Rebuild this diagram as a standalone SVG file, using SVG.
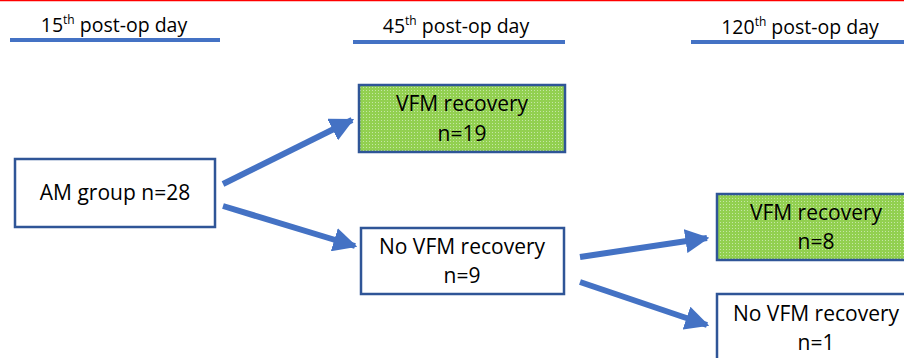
<svg xmlns="http://www.w3.org/2000/svg" width="904" height="358" viewBox="0 0 904 358">
<style>
.hdr{font-family:"Open Sans","Liberation Sans",sans-serif;font-size:19.5px;fill:#000;text-anchor:middle}
.sup{font-size:12px}
.ul{stroke:#4472C4;stroke-width:4}
.box{stroke:#2F5597;stroke-width:2.5}
.lbl{font-family:"Open Sans","Liberation Sans",sans-serif;font-size:21px;fill:#000;text-anchor:middle}
.arr{stroke:#4472C4;stroke-width:6;fill:none;marker-end:url(#ah)}
</style>
<defs>
<pattern id="dots" width="3" height="3" patternUnits="userSpaceOnUse">
<rect width="3" height="3" fill="#92D050"/>
<rect x="0" y="0" width="1" height="1" fill="#C5E6A6"/>
</pattern>
<marker id="ah" viewBox="0 0 10 10" refX="9" refY="5" markerWidth="4" markerHeight="4" orient="auto" markerUnits="strokeWidth">
<path d="M0,0 L10,5 L0,10 z" fill="#4472C4"/>
</marker>
</defs>
<rect x="0" y="0" width="904" height="358" fill="#fff"/>
<line x1="0" y1="0.5" x2="904" y2="0.5" stroke="#FF0000" stroke-width="1.5"/>
<g id="headers">
<text class="hdr" x="114" y="32">15<tspan class="sup" dy="-8">th</tspan><tspan dy="8"> post-op day</tspan></text>
<line class="ul" x1="10" y1="40" x2="220" y2="40"/>
<text class="hdr" x="456" y="33">45<tspan class="sup" dy="-8">th</tspan><tspan dy="8"> post-op day</tspan></text>
<line class="ul" x1="353" y1="42" x2="565" y2="42"/>
<text class="hdr" x="800" y="34">120<tspan class="sup" dy="-8">th</tspan><tspan dy="8"> post-op day</tspan></text>
<line class="ul" x1="691" y1="42" x2="904" y2="42"/>
</g>
<g id="connectors">
<line class="arr" x1="223" y1="184" x2="352" y2="120"/>
<line class="arr" x1="223" y1="206" x2="355" y2="246"/>
<line class="arr" x1="580" y1="257" x2="707" y2="238"/>
<line class="arr" x1="580" y1="282" x2="707" y2="325"/>
</g>
<g id="am">
<rect class="box" x="15" y="159" width="200" height="68" fill="#fff"/>
<text class="lbl" x="115" y="200">AM group n=28</text>
</g>
<g id="vfm19">
<rect class="box" x="359" y="85" width="206" height="67" fill="url(#dots)"/>
<text class="lbl" x="462" y="111">VFM recovery</text>
<text class="lbl" x="462" y="141">n=19</text>
</g>
<g id="novfm9">
<rect class="box" x="361" y="228" width="203" height="66" fill="#fff"/>
<text class="lbl" x="462" y="254">No VFM recovery</text>
<text class="lbl" x="462" y="283">n=9</text>
</g>
<g id="vfm8">
<rect class="box" x="717" y="194" width="200" height="66" fill="url(#dots)"/>
<text class="lbl" x="816" y="220">VFM recovery</text>
<text class="lbl" x="816" y="249">n=8</text>
</g>
<g id="novfm1">
<rect class="box" x="717" y="294" width="200" height="80" fill="#fff"/>
<text class="lbl" x="816" y="321">No VFM recovery</text>
<text class="lbl" x="816" y="350">n=1</text>
</g>
</svg>
